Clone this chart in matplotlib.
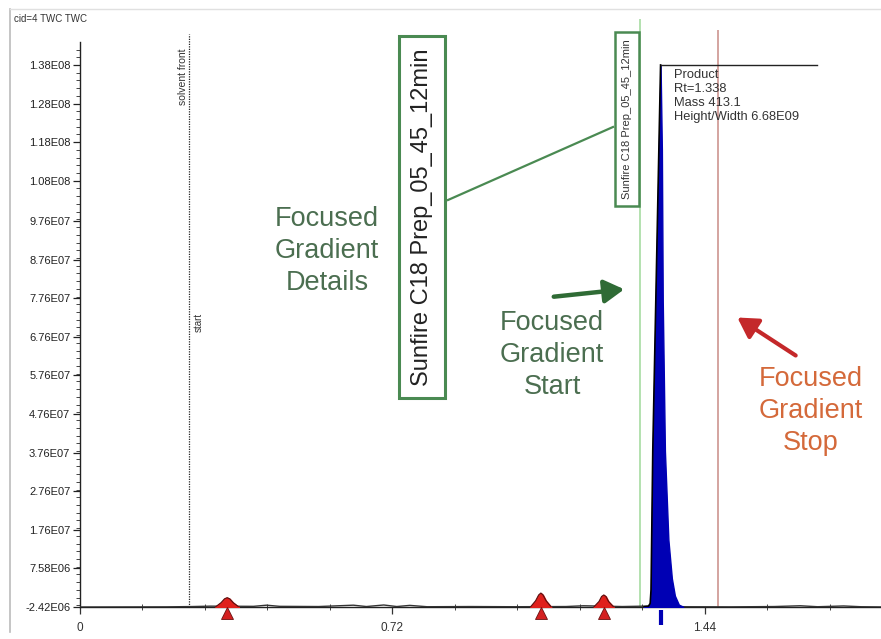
import numpy as np
import matplotlib
matplotlib.use("Agg")
import matplotlib.pyplot as plt
from matplotlib.lines import Line2D
from matplotlib.ticker import FixedLocator, MultipleLocator

plt.rcParams['font.family'] = ['Liberation Sans', 'DejaVu Sans']

# ---------------- data ----------------
# baseline trace (time in min, intensity)
base_t = [0.0, 0.10, 0.20, 0.26, 0.30, 0.40, 0.43, 0.46, 0.55, 0.63, 0.66, 0.70, 0.73,
          0.76, 0.80, 0.90, 1.00, 1.12, 1.16, 1.25, 1.30, 1.40, 1.50, 1.60, 1.66, 1.70,
          1.76, 1.80, 1.846]
base_y = [-2.42e6, -2.40e6, -2.38e6, -2.30e6, -2.20e6, -2.25e6, -1.95e6, -2.25e6,
          -2.30e6, -1.95e6, -2.30e6, -1.90e6, -2.30e6, -2.00e6, -2.35e6, -2.30e6,
          -2.35e6, -2.30e6, -2.10e6, -2.30e6, -2.20e6, -2.35e6, -2.38e6, -2.30e6,
          -2.10e6, -2.35e6, -2.15e6, -2.35e6, -2.40e6]

# main product peak
main_t = [1.300, 1.310, 1.314, 1.316, 1.320, 1.327, 1.334, 1.338, 1.341, 1.343,
          1.348, 1.356, 1.364, 1.371, 1.380, 1.390]
main_y = [-2.35e6, -2.20e6, -1.5e6, 2.0e6, 3.8e7, 7.7e7, 1.16e8, 1.38e8, 1.16e8,
          7.7e7, 3.8e7, 1.5e7, 5.0e6, 0.5e6, -1.8e6, -2.35e6]

# minor peaks (red)
p1_t = [0.312, 0.325, 0.333, 0.339, 0.345, 0.353, 0.366]
p1_y = [-2.42e6, -1.3e6, -0.3e6, 0.0, -0.3e6, -1.3e6, -2.42e6]
p2_t = [1.038, 1.050, 1.057, 1.062, 1.067, 1.074, 1.086]
p2_y = [-2.42e6, -0.8e6, 0.7e6, 1.2e6, 0.7e6, -0.8e6, -2.42e6]
p3_t = [1.184, 1.196, 1.202, 1.207, 1.212, 1.218, 1.230]
p3_y = [-2.42e6, -1.0e6, 0.3e6, 0.7e6, 0.3e6, -1.0e6, -2.42e6]
minor_peak_rt = [0.339, 1.062, 1.207]

product_rt = 1.338
product_height = 1.38e8
solvent_front_t = 0.251
gradient_start_t = 1.29
gradient_stop_t = 1.47

ytick_values = [-2.42e6, 7.58e6, 1.76e7, 2.76e7, 3.76e7, 4.76e7, 5.76e7, 6.76e7,
                7.76e7, 8.76e7, 9.76e7, 1.08e8, 1.18e8, 1.28e8, 1.38e8]
ytick_labels = ["-2.42E06", "7.58E06", "1.76E07", "2.76E07", "3.76E07", "4.76E07",
                "5.76E07", "6.76E07", "7.76E07", "8.76E07", "9.76E07", "1.08E08",
                "1.18E08", "1.28E08", "1.38E08"]
xtick_values = [0, 0.72, 1.44]
xtick_labels = ["0", "0.72", "1.44"]

method_name = "Sunfire C18 Prep_05_45_12min"
product_info = "Product\nRt=1.338\nMass 413.1\nHeight/Width 6.68E09"

# ---------------- figure ----------------
W, H = 881, 639
fig = plt.figure(figsize=(W / 100, H / 100), dpi=100)
fig.patch.set_facecolor('white')

def fx(px):
    return px / W

def fy(py):
    return 1 - py / H

ax = fig.add_axes([fx(80), fy(607), fx(881) - fx(80), fy(42) - fy(607)])
ax.set_xlim(0, 1.846)
ax.set_ylim(-2.42e6, 1.4395e8)
for s in ['top', 'right']:
    ax.spines[s].set_visible(False)
ax.spines['left'].set_color('#222222')
ax.spines['bottom'].set_color('#222222')
ax.spines['left'].set_linewidth(1.0)
ax.spines['bottom'].set_linewidth(1.0)

ax.yaxis.set_major_locator(FixedLocator(ytick_values))
ax.set_yticklabels(ytick_labels)
ax.yaxis.set_minor_locator(MultipleLocator(2e6))
ax.xaxis.set_major_locator(FixedLocator(xtick_values))
ax.set_xticklabels(xtick_labels)
ax.xaxis.set_minor_locator(MultipleLocator(0.144))
ax.tick_params(axis='y', which='major', length=5, width=0.9, labelsize=8,
               colors='#222222', pad=2)
ax.tick_params(axis='y', which='minor', length=3, width=0.7, color='#444444')
ax.tick_params(axis='x', which='major', length=5, width=0.9, labelsize=8.5,
               colors='#333333', pad=6, direction='out')
ax.tick_params(axis='x', which='minor', length=4, width=0.7, color='#444444',
               direction='inout')

# vertical marker lines
ax.vlines(solvent_front_t, -2.42e6, 1.46e8, colors='#222222', linestyles=(0, (1, 1)),
          lw=0.9, clip_on=False)
ax.vlines(gradient_start_t, -2.42e6, 1.50e8, colors='#9fd89a', lw=1.1, clip_on=False)
ax.vlines(gradient_stop_t, -2.42e6, 1.47e8, colors='#c98c86', lw=1.1, clip_on=False)

# traces
ax.plot(base_t, base_y, color='#333333', lw=1.0, zorder=3)
for t, y in [(p1_t, p1_y), (p2_t, p2_y), (p3_t, p3_y)]:
    ax.fill_between(t, -2.42e6, y, color='#e0201c', zorder=4)
    ax.plot(t, y, color='#5a1010', lw=0.8, zorder=4)
ax.plot(minor_peak_rt, [-4.0e6] * len(minor_peak_rt), linestyle='none', marker='^',
        markersize=8, markerfacecolor='#d42020', markeredgecolor='#6a1010',
        markeredgewidth=0.6, clip_on=False, zorder=5)

ax.fill_between(main_t, -2.42e6, main_y, color='#0000b4', zorder=4)
ax.plot(main_t[:8], main_y[:8], color='black', lw=1.2, zorder=5)
ax.plot([product_rt, 1.698], [product_height, product_height], color='#222222', lw=1.0,
        zorder=5)
ax.vlines(product_rt, -3.2e6, -7.2e6, colors='#0000b4', lw=3, clip_on=False, zorder=5)

# text labels on chromatogram
ax.text(solvent_front_t - 0.013, 1.35e8, "solvent front", rotation=90, ha='center',
        va='center', fontsize=7.5, color='#333333')
ax.text(solvent_front_t + 0.022, 7.14e7, "start", rotation=90, ha='center',
        va='center', fontsize=7, color='#333333')
fig.text(fx(674), fy(69), product_info, ha='left', va='top', fontsize=9.3,
         color='#333333', linespacing=1.22)

# window frame
fig.add_artist(Line2D([fx(10), fx(10)], [fy(9), fy(632)], color='#bbbbbb', lw=1.2))
fig.add_artist(Line2D([fx(10), fx(881)], [fy(9), fy(9)], color='#e0e0e0', lw=1.0))
fig.text(fx(14), fy(19), "cid=4 TWC TWC", ha='left', va='center', fontsize=7,
         color='#333333')

# method boxes
green_box = '#4a8a52'
fig.text(fx(422), fy(217), method_name, rotation=90, ha='center', va='center',
         fontsize=17, color='#222222',
         bbox=dict(boxstyle='square,pad=0.5', fc='white', ec=green_box, lw=2.2))
fig.text(fx(627), fy(119), method_name, rotation=90, ha='center', va='center',
         fontsize=8, color='#333333',
         bbox=dict(boxstyle='square,pad=0.6', fc='white', ec=green_box, lw=1.8))
fig.add_artist(Line2D([fx(448), fx(613)], [fy(200), fy(127)], color=green_box, lw=1.6))

# annotation texts
green_txt = '#4b6e50'
fig.text(fx(327), fy(251), "Focused\nGradient\nDetails", ha='center', va='center',
         fontsize=19.5, color=green_txt, linespacing=1.3)
fig.text(fx(552), fy(355), "Focused\nGradient\nStart", ha='center', va='center',
         fontsize=19.5, color=green_txt, linespacing=1.3)
fig.text(fx(811), fy(411), "Focused\nGradient\nStop", ha='center', va='center',
         fontsize=19.5, color='#d4693a', linespacing=1.3)

# arrows
fig.add_artist(matplotlib.patches.FancyArrowPatch(
    (fx(551), fy(297)), (fx(627), fy(289)), transform=fig.transFigure,
    arrowstyle='-|>,head_length=6,head_width=3.5', color='#2f6b35', lw=3.2,
    mutation_scale=2))
fig.add_artist(matplotlib.patches.FancyArrowPatch(
    (fx(798), fy(357)), (fx(735), fy(316)), transform=fig.transFigure,
    arrowstyle='-|>,head_length=6,head_width=3.5', color='#c4282a', lw=3.0,
    mutation_scale=2))

fig.savefig("out.png", dpi=100, facecolor='white')
